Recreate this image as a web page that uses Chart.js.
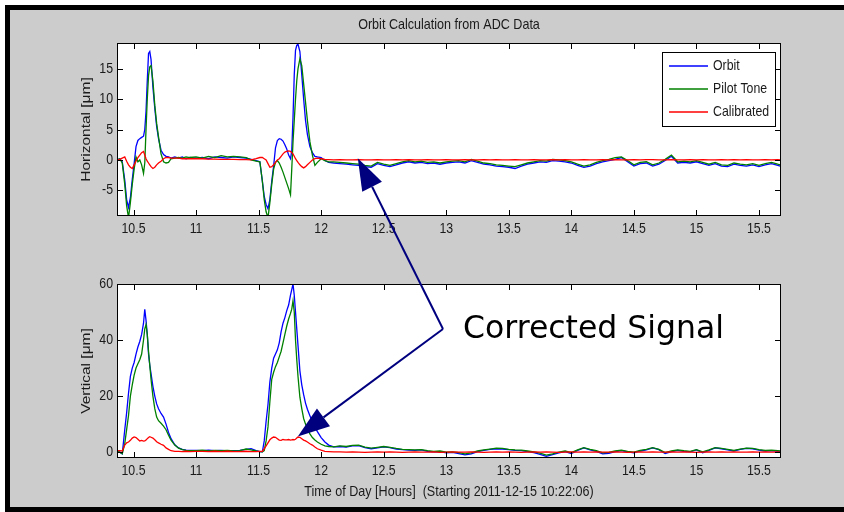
<!DOCTYPE html>
<html><head><meta charset="utf-8">
<script src="https://cdn.jsdelivr.net/npm/chart.js@4/dist/chart.umd.min.js"></script>
<style>
html,body{margin:0;padding:0;background:#fff;overflow:hidden;}
.blk{position:absolute;background:#000;}
#fig{position:absolute;left:10px;top:10px;width:900px;height:497px;background:#cccccc;}
canvas{position:absolute;left:0;top:0;}
</style></head><body>
<div class="blk" style="left:5px;top:5px;width:900px;height:5px"></div>
<div class="blk" style="left:5px;top:5px;width:5px;height:520px"></div>
<div class="blk" style="left:5px;top:507px;width:900px;height:20px"></div>
<div id="fig"></div>
<canvas id="c1" width="844" height="512"></canvas>
<canvas id="c2" width="844" height="512"></canvas>
<script>
// ---------------- data ----------------
const HOURS = [
10.37,10.39,10.41,10.43,10.445,10.46,10.475,10.49,10.505,10.52,10.535,10.55,10.565,10.58,10.59,10.60,10.61,10.62,10.63,10.64,10.655,10.67,10.685,10.70,10.72,10.74,10.76,10.78,10.80,10.83,10.86,10.89,10.92,10.95,
11.00,11.05,11.10,11.15,11.20,11.25,11.30,11.35,11.40,11.44,11.48,11.51,11.53,11.545,11.56,11.575,11.59,11.605,11.62,11.635,11.65,11.665,11.68,11.695,11.71,11.725,11.74,11.755,11.765,11.775,11.785,11.795,11.805,11.815,11.83,11.845,11.86,11.875,11.89,11.91,11.93,11.95,11.97,12.00,12.03,12.06,12.10,
12.15,12.20,12.25,12.30,12.35,12.40,12.45,12.50,12.55,12.60,
12.65,12.70,12.75,12.80,12.85,12.90,12.95,13.00,13.05,13.10,
13.15,13.20,13.25,13.30,13.35,13.40,13.45,13.50,13.55,13.60,
13.65,13.70,13.75,13.80,13.85,13.90,13.95,14.00,14.05,14.10,
14.15,14.20,14.25,14.30,14.35,14.40,14.45,14.50,14.55,14.60,
14.65,14.70,14.75,14.80,14.85,14.90,14.95,15.00,15.05,15.10,
15.15,15.20,15.25,15.30,15.35,15.40,15.45,15.50,15.55,15.60,
15.65,15.67];

const H_ORBIT = [
0,0.2,-0.3,-3.3,-6.5,-7.8,-6.2,-3.2,-0.6,2.2,3.2,3.5,3.7,3.9,5,8,13,17.5,17.8,16.5,12,8.5,5.5,3.5,1.6,0.9,0.6,0.5,0.3,0.5,0.3,0.5,0.2,0.4,
0.3,0.4,0.2,0.5,0.4,0.3,0.5,0.4,0.3,0.1,-0.1,-0.3,-3.5,-6,-7.3,-8,-6.5,-3.5,-1,2,3.2,3.5,3.4,3.1,2.5,1.8,0.8,0.2,1.5,7,14,18,18.8,19,17.8,14,10,6.5,4.2,2.2,1.2,0.6,0.5,0.4,-0.1,-0.4,-0.5,
-0.6,-0.7,-0.8,-0.9,-1.1,-1.2,-0.6,-0.9,-1.1,-0.8,
-0.5,-0.3,-0.5,-0.4,-0.6,-0.5,-0.7,-0.5,-0.4,-0.3,
-0.5,-0.1,-0.4,-0.7,-0.8,-1.0,-1.1,-1.2,-1.4,-1.0,
-0.7,-0.5,-0.3,-0.4,-0.1,-0.2,-0.3,-0.5,-0.9,-1.2,
-1.0,-0.6,-0.3,-0.1,0.1,0.4,-0.3,-1.0,-0.6,-0.5,
-1.0,-0.7,-0.1,0.6,-0.5,-0.4,-0.5,-0.3,-0.6,-0.9,
-0.6,-1.0,-1.1,-0.7,-0.9,-1.0,-0.8,-1.1,-0.8,-0.6,
-0.9,-1.0];

const H_PILOT = [
0,0.2,-0.5,-4,-7.5,-9.5,-7,-4,-1.5,0.5,-0.3,0,-0.8,-2.2,-0.5,5,10,13.8,15.3,15.5,13,9,6,3.8,1,-0.3,-0.5,-0.4,0.2,0.3,0.4,0.3,0.5,0.4,
0.5,0.3,0.6,0.4,0.7,0.5,0.6,0.5,0.4,0,-0.2,-0.3,-3.5,-6.5,-8.5,-9.5,-7,-4,-1.5,-0.4,-0.1,-0.5,-1.2,-2,-2.9,-3.8,-4.7,-5.7,-1.5,3,6.5,10,13,15,16.6,15.5,12.5,9.5,6.5,3,0.8,-0.9,-0.4,0.2,-0.1,-0.3,-0.3,
-0.4,-0.5,-0.6,-0.7,-0.9,-1.0,-0.4,-0.7,-0.9,-0.6,
-0.3,-0.1,-0.3,-0.2,-0.4,-0.3,-0.5,-0.3,-0.2,-0.1,
-0.3,0.1,-0.2,-0.5,-0.6,-0.8,-0.9,-1.0,-1.1,-0.8,
-0.5,-0.3,-0.1,-0.2,0.1,0.0,-0.1,-0.3,-0.7,-1.0,
-0.8,-0.4,-0.1,0.1,0.4,0.5,-0.1,-0.8,-0.4,-0.3,
-0.8,-0.5,0.1,0.8,-0.3,-0.2,-0.3,-0.1,-0.4,-0.7,
-0.4,-0.8,-0.9,-0.5,-0.7,-0.8,-0.6,-0.9,-0.6,-0.4,
-0.7,-0.8];

const H_CALIB = [
0,0.1,0.3,0.5,-0.2,-0.8,-1.2,-1.4,-0.8,-0.2,0.4,0.8,1.2,1.4,0.8,0.2,-0.2,-0.5,-0.8,-1.1,-1.4,-1.2,-0.8,-0.5,-0.2,0.2,0.4,0.4,0.3,0.3,0.3,0.2,0.2,0.2,
0.2,0.2,0.15,0.15,0.1,0.1,0.1,0.05,0.05,0,0.2,0.4,0.4,0.2,0,-0.6,-1.2,-1.1,-0.8,-0.4,0,0.2,0.6,1,1.3,1.4,1.5,1.4,1.2,1,0.6,0.2,-0.1,-0.4,-0.8,-1.1,-1.3,-1.1,-0.8,-0.4,0,0.2,0.3,0.2,0.1,0.05,0,
0.05,0,0,0.05,0,0,0.05,0,0,0.05,
0,0.05,0,0,0.05,0,0,0.05,0,0,
0.05,0,0,0.05,0,0.05,0,0,0.05,0,
0,0.05,0,0,0.05,0,0.05,0,0,0.05,
0,0,0.05,0,0.05,0,0,0.05,0,0.05,
0.05,0,0,0.05,0,0,0.05,0,0.05,0,
0,0.05,0,0.05,0,0.05,0,0,0.05,0,
0.05,0];

const V_ORBIT = [
0.3,0,-0.6,8,14,21,27,30,32,35,37.5,39.5,42,46,51,47,42,35,31,28,23.5,20,17.2,15.5,13.8,12.5,10,7,4.8,2.6,1.5,1,0.7,0.6,
0.6,0.5,0.7,0.5,0.6,0.4,0.5,0.6,1.0,1.2,0.5,0.2,0.1,4,11,17,25,30,33.5,35,36.5,39,43,46,48,50.5,52.5,56,58,60,56,50,44,38,29,24,20.5,17.5,15.3,13,10.8,9,7.3,5.2,3.6,2.5,1.9,
2.0,1.8,2.2,2.3,1.6,1.2,1.5,1.9,1.6,1.1,
0.9,0.7,0.6,0.8,0.3,0.1,0.2,-0.3,-0.1,-0.5,
-1.0,-0.6,0.2,0.6,1.0,1.2,1.1,0.9,0.6,0.5,
0.2,-0.2,-0.8,-1.5,-0.9,-0.3,0.2,-0.5,0.6,1.5,
0.8,0.3,-0.6,-0.4,0.2,0.5,0.1,-0.3,0.4,0.8,
1.5,0.9,-0.5,0.2,0.6,0.3,0.1,0.8,-0.2,0.6,
1.5,1.2,0.8,0.4,1.0,1.3,1.2,0.7,0.4,0.5,
0.3,0.2];

const V_PILOT = [
0.3,0,-0.6,3,8,13,20,24,27.5,30,31.5,33,35,40,44,45.5,42,36,31,26,20,15.5,12.5,11.2,10.3,9.3,8,6,4.3,2.5,1.4,0.9,0.6,0.5,
0.5,0.7,0.4,0.6,0.5,0.6,0.4,0.5,1.1,0.8,0.4,0.2,0.1,0.5,4,9,18,26,28.5,30.5,32,34,36,39,42,45,47.5,49.5,51,54,50,40,33,27,19.6,15.5,12,10,8.3,6.5,5.2,4.3,3.6,2.8,2.2,2.0,1.9,
2.2,2.0,2.4,2.5,1.8,1.4,1.7,2.0,1.7,1.3,
1.0,0.9,0.8,0.9,0.5,0.3,0.4,0.0,0.1,-0.2,
-0.6,-0.3,0.4,0.8,1.1,1.4,1.3,1.0,0.8,0.7,
0.4,0.1,-0.4,-1.1,-0.6,0.0,0.4,-0.2,0.8,1.6,
1.0,0.5,-0.3,-0.1,0.4,0.7,0.3,0.0,0.6,1.0,
1.6,1.0,-0.2,0.4,0.8,0.5,0.3,0.9,0.1,0.8,
1.6,1.3,1.0,0.6,1.1,1.4,1.3,0.9,0.6,0.7,
0.5,0.4];

const V_CALIB = [
0.5,0.5,0.4,2.5,3.3,3.6,4.2,5,5.4,5.2,4.6,4,4.2,3.9,4,4.3,4.8,5.2,5.5,5.3,5,4.4,3.7,3.3,2.8,2.4,1.5,1,0.5,0.3,0.3,0.2,0.3,0.2,
0.3,0.3,0.2,0.3,0.2,0.3,0.2,0.2,0.3,0.2,0.2,0.3,0.3,1.2,2.2,3.3,4.4,5,5.4,5.3,4.8,4.3,4.2,4.5,4.4,4.4,4.5,4.3,4.4,4.5,4.4,4.6,5,5.4,5.3,4.8,4.3,4,3.6,3,2.5,1.8,1.2,0.7,0.3,0.2,0.1,
0.1,0.0,0.1,0.0,-0.1,0.0,0.1,0.0,0.1,0.0,
-0.1,0.0,0.1,0.0,0.0,0.1,-0.1,0.0,0.1,0.0,
0.0,0.1,0.0,-0.1,0.0,0.1,0.0,0.1,0.0,-0.1,
0.0,0.1,0.0,0.1,0.0,-0.1,0.0,0.1,0.0,0.1,
0.0,0.1,0.0,0.0,0.1,0.0,-0.1,0.0,0.1,0.0,
0.1,0.0,0.0,0.1,0.0,0.1,0.0,-0.1,0.0,0.1,
0.0,0.1,0.0,0.1,0.0,0.0,0.1,0.0,0.1,0.0,
0.1,0.0];

const SERIES_NAMES = ['Orbit', 'Pilot Tone', 'Calibrated'];
const X_TICKS = [10.5, 11, 11.5, 12, 12.5, 13, 13.5, 14, 14.5, 15, 15.5];
const H_TICKS = [-5, 0, 5, 10, 15];
const V_TICKS = [0, 20, 40, 60];
const TITLE = 'Orbit Calculation from ADC Data';
const H_LABEL = 'Horizontal [\u03bcm]';
const V_LABEL = 'Vertical [\u03bcm]';
const X_LABEL = 'Time of Day [Hours]  (Starting 2011-12-15 10:22:06)';
const NOTE = 'Corrected Signal';
const NOTE_TARGETS = [[12.293, 0.3], [11.813, 5.6]]; // [hour, value] in top / bottom panel

// ---------------- style ----------------
const COLORS = ['#0000ff', '#008000', '#ff0000'];
const X_MIN = 10.368, X_MAX = 15.676;
const SQ = 0.85;
const FONT = '"Liberation Sans", Arial, sans-serif';
const TXT = '#1a1a1a';
const NAVY = '#00007f';

function drawText(ctx, s, x, y, size, align, vertical) {
  ctx.save();
  ctx.translate(x, y);
  if (vertical) { ctx.rotate(-Math.PI / 2); ctx.scale(1, SQ); } else { ctx.scale(SQ, 1); }
  ctx.font = size + 'px ' + FONT;
  ctx.fillStyle = TXT;
  ctx.textAlign = align;
  ctx.textBaseline = 'middle';
  ctx.fillText(s, 0, 0);
  ctx.restore();
}

function drawArrow(ctx, from, tip) {
  const dx = from[0] - tip[0], dy = from[1] - tip[1];
  const L = Math.hypot(dx, dy), ux = dx / L, uy = dy / L;
  const headL = 32, headW = 11;
  const bx = tip[0] + ux * headL, by = tip[1] + uy * headL;
  ctx.save();
  ctx.strokeStyle = NAVY; ctx.fillStyle = NAVY; ctx.lineWidth = 2;
  ctx.beginPath(); ctx.moveTo(from[0], from[1]); ctx.lineTo(bx, by); ctx.stroke();
  ctx.beginPath();
  ctx.moveTo(tip[0], tip[1]);
  ctx.lineTo(bx - uy * headW, by + ux * headW);
  ctx.lineTo(bx + uy * headW, by - ux * headW);
  ctx.closePath(); ctx.fill();
  ctx.restore();
}

function framePlugin(opt) {
  return {
    id: 'frame_' + opt.key,
    beforeDraw(chart) {
      const { ctx, chartArea: a } = chart;
      ctx.save(); ctx.fillStyle = '#ffffff';
      ctx.fillRect(a.left, a.top, a.right - a.left, a.bottom - a.top);
      ctx.restore();
    },
    afterDraw(chart) {
      const { ctx, chartArea: a } = chart;
      const x = chart.scales.x, y = chart.scales.y;
      ctx.save();
      ctx.strokeStyle = '#000'; ctx.lineWidth = 1;
      ctx.strokeRect(a.left + 0.5, a.top + 0.5, a.right - a.left - 1, a.bottom - a.top - 1);
      ctx.beginPath();
      X_TICKS.forEach(v => {
        const px = Math.round(x.getPixelForValue(v)) + 0.5;
        ctx.moveTo(px, a.bottom); ctx.lineTo(px, a.bottom - 6);
        ctx.moveTo(px, a.top); ctx.lineTo(px, a.top + 6);
      });
      opt.yTicks.forEach(v => {
        const py = Math.round(y.getPixelForValue(v)) + 0.5;
        ctx.moveTo(a.left, py); ctx.lineTo(a.left + 6, py);
        ctx.moveTo(a.right, py); ctx.lineTo(a.right - 6, py);
      });
      ctx.stroke();
      X_TICKS.forEach(v => drawText(ctx, String(v), x.getPixelForValue(v), a.bottom + 13, 14.5, 'center'));
      opt.yTicks.forEach(v => drawText(ctx, String(v), a.left - 4, y.getPixelForValue(v), 14.5, 'right'));
      drawText(ctx, opt.yLabel, 86, (a.top + a.bottom) / 2, 15.5, 'center', true);
      if (opt.after) opt.after(chart);
      ctx.restore();
    }
  };
}

function series(vals) {
  const n = Math.min(HOURS.length, vals.length);
  const out = [];
  for (let i = 0; i < n; i++) out.push({ x: HOURS[i], y: vals[i] });
  return out;
}

function makeDatasets(o, p, c) {
  return [o, p, c].map((vals, i) => ({
    label: SERIES_NAMES[i], data: series(vals), borderColor: COLORS[i],
    backgroundColor: COLORS[i], borderWidth: 1.3, pointRadius: 0, fill: false,
    tension: 0, order: 3 - i
  }));
}

function panel(id, datasets, yMin, yMax, pad, plugin) {
  return new Chart(document.getElementById(id), {
    type: 'line',
    data: { datasets },
    options: {
      responsive: false, animation: false, events: [],
      layout: { padding: pad },
      plugins: { legend: { display: false }, tooltip: { enabled: false }, title: { display: false } },
      scales: {
        x: { type: 'linear', display: false, min: X_MIN, max: X_MAX },
        y: { type: 'linear', display: false, min: yMin, max: yMax }
      }
    },
    plugins: [plugin]
  });
}

const topChart = panel('c1', makeDatasets(H_ORBIT, H_PILOT, H_CALIB), -9.2, 19.2,
  { left: 117, top: 43, right: 63, bottom: 296 },
  framePlugin({
    key: 'top', yTicks: H_TICKS, yLabel: H_LABEL,
    after(chart) {
      const ctx = chart.ctx, a = chart.chartArea;
      drawText(ctx, TITLE, (a.left + a.right) / 2, 25, 14.8, 'center');
      // legend
      const lx = 662, ly = 52, lw = 113, lh = 74;
      ctx.fillStyle = '#fff'; ctx.fillRect(lx, ly, lw, lh);
      ctx.strokeStyle = '#000'; ctx.lineWidth = 1;
      ctx.strokeRect(lx + 0.5, ly + 0.5, lw, lh);
      const rows = [66, 89, 112];
      SERIES_NAMES.forEach((nm, i) => {
        ctx.strokeStyle = COLORS[i]; ctx.lineWidth = 1.6;
        ctx.beginPath(); ctx.moveTo(669, rows[i]); ctx.lineTo(708, rows[i]); ctx.stroke();
        drawText(ctx, nm, 713, rows[i], 14.5, 'left');
      });
    }
  }));

const bottomChart = panel('c2', makeDatasets(V_ORBIT, V_PILOT, V_CALIB), -2.1, 60,
  { left: 117, top: 284, right: 63, bottom: 54 },
  framePlugin({
    key: 'bottom', yTicks: V_TICKS, yLabel: V_LABEL,
    after(chart) {
      const ctx = chart.ctx, a = chart.chartArea;
      drawText(ctx, X_LABEL, (a.left + a.right) / 2, 492, 14.8, 'center');
      const origin = [443, 329];
      const t1 = [topChart.scales.x.getPixelForValue(NOTE_TARGETS[0][0]), topChart.scales.y.getPixelForValue(NOTE_TARGETS[0][1])];
      const t2 = [chart.scales.x.getPixelForValue(NOTE_TARGETS[1][0]), chart.scales.y.getPixelForValue(NOTE_TARGETS[1][1])];
      drawArrow(ctx, origin, t1);
      drawArrow(ctx, origin, t2);
      ctx.save();
      ctx.font = '31.5px "DejaVu Sans", sans-serif';
      ctx.fillStyle = '#000'; ctx.textAlign = 'left'; ctx.textBaseline = 'alphabetic';
      ctx.fillText(NOTE, 463, 338);
      ctx.restore();
    }
  }));
</script>
</body></html>
